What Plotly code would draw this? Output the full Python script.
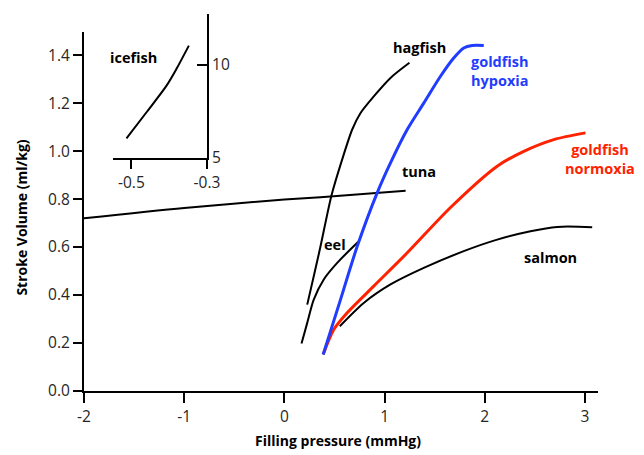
import plotly.graph_objects as go

# ---------------- data ----------------
tuna_x = [-2.0, -1.0, 0.0, 0.36, 1.21]
tuna_y = [0.72, 0.763, 0.798, 0.808, 0.835]

hagfish_x = [0.228, 0.293, 0.360, 0.470, 0.570, 0.677, 0.760, 0.892, 1.059, 1.248]
hagfish_y = [0.360, 0.478, 0.602, 0.815, 0.956, 1.090, 1.159, 1.228, 1.305, 1.368]

eel_x = [0.171, 0.228, 0.293, 0.393, 0.527, 0.743]
eel_y = [0.198, 0.284, 0.381, 0.465, 0.534, 0.624]

hypoxia_x = [0.387, 0.560, 0.727, 0.926, 1.059, 1.226, 1.391, 1.558, 1.690, 1.790, 1.874, 1.990]
hypoxia_y = [0.152, 0.381, 0.603, 0.826, 0.951, 1.090, 1.200, 1.312, 1.388, 1.430, 1.440, 1.440]

normoxia_x = [0.387, 0.493, 0.627, 0.892, 1.226, 1.658, 2.124, 2.389, 2.689, 3.005]
normoxia_y = [0.152, 0.256, 0.326, 0.437, 0.576, 0.765, 0.937, 0.999, 1.048, 1.076]

salmon_x = [0.553, 0.792, 1.059, 1.391, 1.790, 2.124, 2.456, 2.722, 3.072]
salmon_y = [0.270, 0.367, 0.444, 0.513, 0.583, 0.631, 0.666, 0.684, 0.683]

icefish_x = [-0.513, -0.460, -0.407, -0.381, -0.348]
icefish_y = [6.06, 7.46, 8.89, 9.78, 11.04]

main_xticks = [-2, -1, 0, 1, 2, 3]
main_xticklabels = ["-2", "-1", "0", "1", "2", "3"]
main_yticks = [0.0, 0.2, 0.4, 0.6, 0.8, 1.0, 1.2, 1.4]
inset_xticks = [-0.5, -0.3]
inset_xticklabels = ["-0.5", "-0.3"]
inset_yticks = [5, 10]

labels = [
    ("hagfish", 1.35, 1.433, "black"),
    ("goldfish<br>hypoxia", 2.147, 1.333, "#1f3cff"),
    ("tuna", 1.348, 0.915, "black"),
    ("goldfish<br>normoxia", 3.145, 0.969, "#ff2200"),
    ("eel", 0.507, 0.61, "black"),
    ("salmon", 2.651, 0.556, "black"),
]

# ---------------- figure ----------------
BLUE = "#1f3cff"
RED = "#ff2200"
FONT = "Open Sans"
XR = [-2.0, 3.13]
YR = [0, 1.496]
YDOM = [0, 0.952]

fig = go.Figure()

def add_line(x, y, color, width, xa="x", ya="y"):
    fig.add_trace(go.Scatter(x=x, y=y, mode="lines", xaxis=xa, yaxis=ya,
                             line=dict(color=color, width=width, shape="spline", smoothing=0.8),
                             showlegend=False, hoverinfo="skip"))

add_line(tuna_x, tuna_y, "black", 2)
add_line(hagfish_x, hagfish_y, "black", 2)
add_line(eel_x, eel_y, "black", 2)
add_line(salmon_x, salmon_y, "black", 2)
add_line(normoxia_x, normoxia_y, RED, 3)
add_line(hypoxia_x, hypoxia_y, BLUE, 3)
add_line(icefish_x, icefish_y, "black", 2, "x2", "y2")

# curve labels: data positions mapped to paper coords (so labels past the axis end still show)
for text, x, y, col in labels:
    px = (x - XR[0]) / (XR[1] - XR[0])
    py = YDOM[0] + (y - YR[0]) / (YR[1] - YR[0]) * (YDOM[1] - YDOM[0])
    fig.add_annotation(x=px, y=py, xref="paper", yref="paper", text="<b>%s</b>" % text,
                       showarrow=False, xanchor="center", yanchor="middle",
                       font=dict(family=FONT, size=14.5, color=col),
                       align="left" if "hypoxia" in text else "center")

fig.add_annotation(x=-0.4944, y=10.41, xref="x2", yref="y2", text="<b>icefish</b>",
                   showarrow=False, xanchor="center", yanchor="middle",
                   font=dict(family=FONT, size=14.5, color="black"))

# axis titles
fig.add_annotation(x=-0.1206, y=0.46, xref="paper", yref="paper",
                   text="<b>Stroke Volume (ml/kg)</b>", textangle=-90, showarrow=False,
                   xanchor="center", yanchor="middle",
                   font=dict(family=FONT, size=14, color="black"))
fig.add_annotation(x=0.495, y=-0.130, xref="paper", yref="paper",
                   text="<b>Filling pressure (mmHg)</b>", showarrow=False,
                   xanchor="center", yanchor="middle",
                   font=dict(family=FONT, size=14, color="black"))

tickfont = dict(family=FONT, size=15.5, color="#262626")
common = dict(showgrid=False, zeroline=False, showline=True, linecolor="black",
              linewidth=2, tickcolor="black", tickwidth=2, tickfont=tickfont)

fig.update_layout(
    width=644, height=455, autosize=False,
    margin=dict(l=84, r=46, t=14, b=64),
    paper_bgcolor="white", plot_bgcolor="white",
    xaxis=dict(domain=[0, 1], range=XR, tickvals=main_xticks,
               ticktext=main_xticklabels, ticks="outside", ticklen=10, anchor="y", **common),
    yaxis=dict(domain=YDOM, range=YR, tickvals=main_yticks,
               tickformat=".1f", ticks="outside", ticklen=9, anchor="x", **common),
    xaxis2=dict(domain=[0.0564, 0.2393], range=[-0.5487, -0.3], tickvals=inset_xticks,
                ticktext=inset_xticklabels, ticks="outside", ticklen=9, anchor="y2", **common),
    yaxis2=dict(domain=[0.618, 1.0], range=[5, 12.74], tickvals=inset_yticks,
                side="right", ticks="inside", ticklen=10, anchor="x2", **common),
)

fig.write_html("out.html", config={"displayModeBar": False},
               post_script="document.body.style.margin='0';")
